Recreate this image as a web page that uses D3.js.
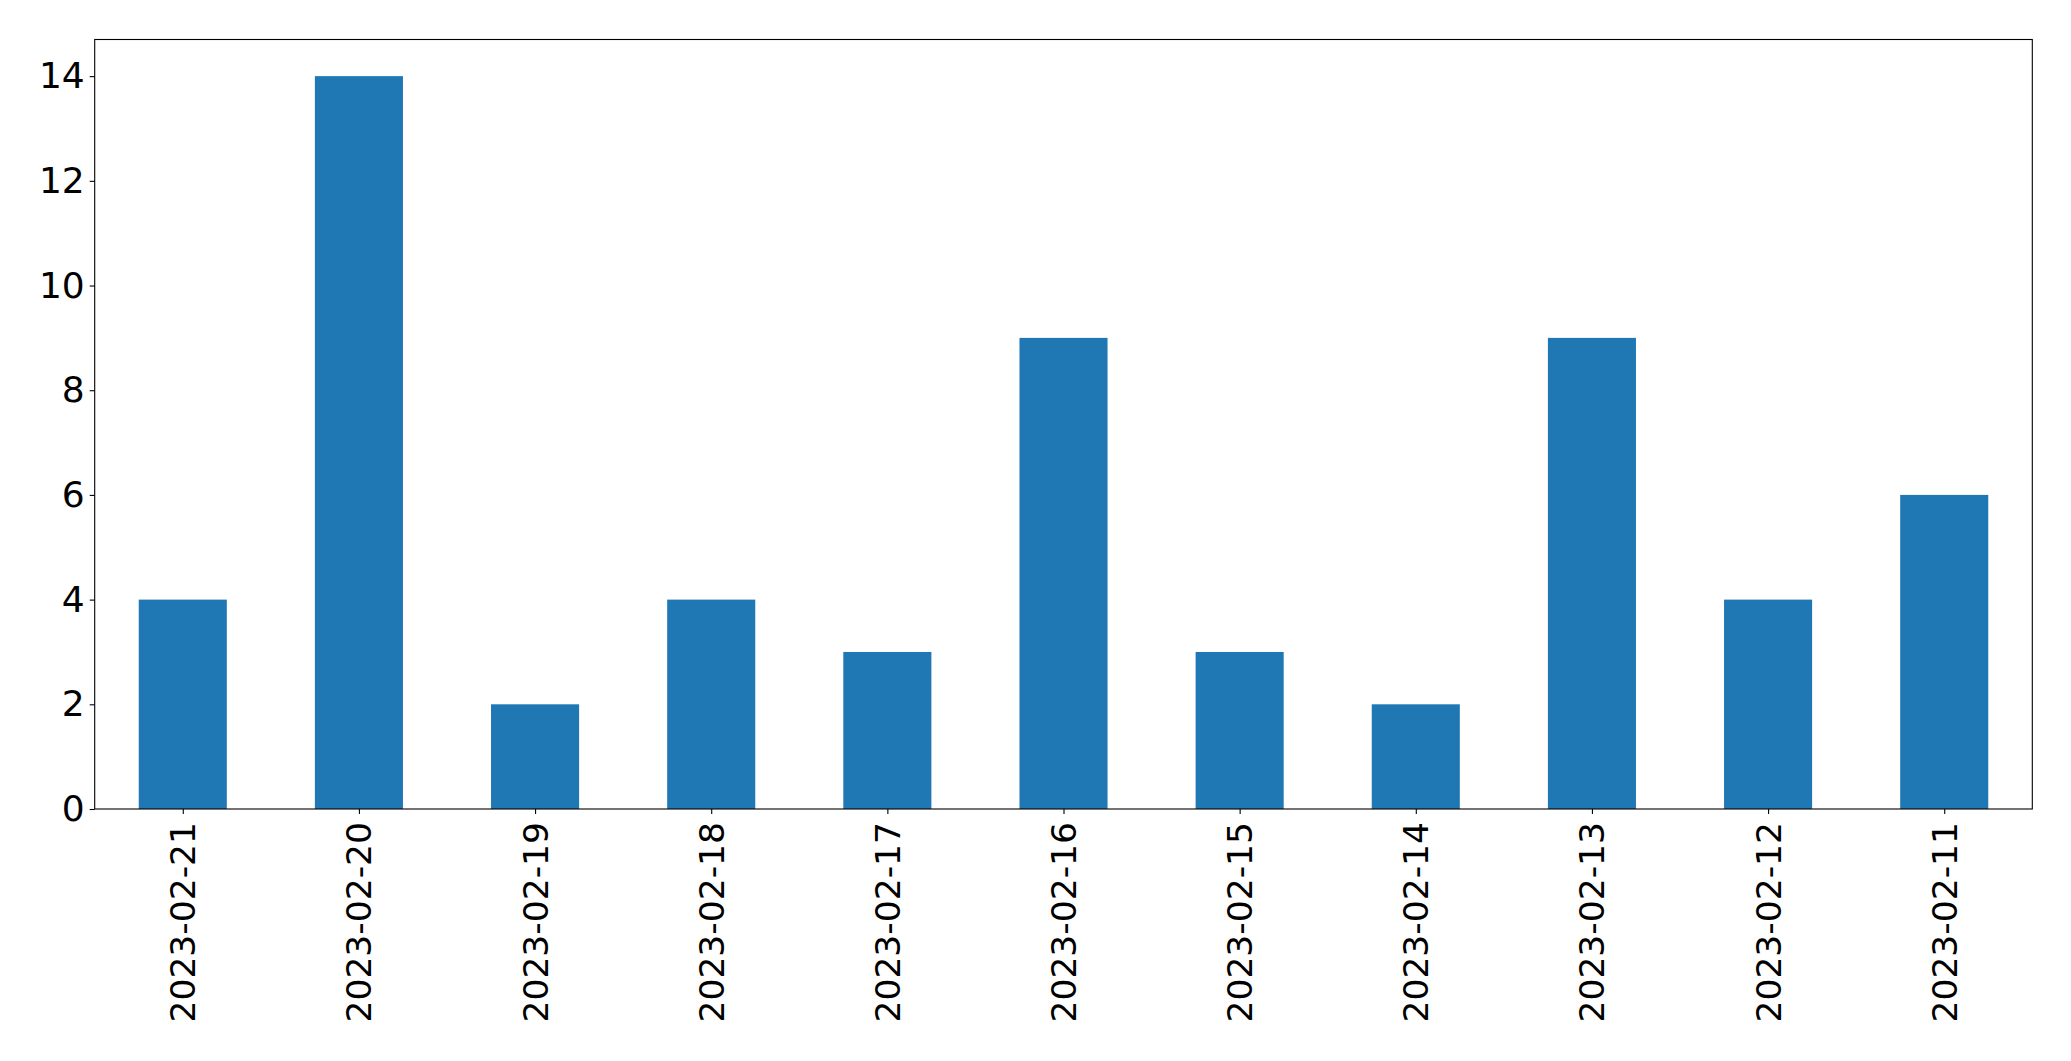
<!DOCTYPE html>
<html><head><meta charset="utf-8">
<script src="https://cdn.jsdelivr.net/npm/d3@7"></script>
<style>body{margin:0;background:#fff;} svg{display:block;} text{font-family:"DejaVu Sans",sans-serif;}</style>
</head><body>
<script>
const categories = ["2023-02-21","2023-02-20","2023-02-19","2023-02-18","2023-02-17","2023-02-16","2023-02-15","2023-02-14","2023-02-13","2023-02-12","2023-02-11"];
const values = [4,14,2,4,3,9,3,2,9,4,6];
const yTicks = [0,2,4,6,8,10,12,14];

const W = 2071, H = 1061;
const m = {left: 94.7, right: 2032.3, top: 39.5, bottom: 809};
const svg = d3.select("body").append("svg").attr("width", W).attr("height", H);

const x = d3.scaleLinear().domain([-0.5, categories.length - 0.5]).range([m.left, m.right]);
const y = d3.scaleLinear().domain([0, 14.7]).range([m.bottom, m.top]);
const bw = x(0.5) - x(0);

svg.append("g").selectAll("rect").data(values).join("rect")
  .attr("x", (d, i) => x(i) - bw / 2)
  .attr("width", bw)
  .attr("y", d => y(d))
  .attr("height", d => y(0) - y(d))
  .attr("fill", "#1f77b4");

const yAxis = svg.append("g").attr("transform", `translate(${m.left},0)`)
  .call(d3.axisLeft(y).tickValues(yTicks).tickSize(5).tickPadding(5).tickFormat(d3.format("d")));
yAxis.select(".domain").remove();
yAxis.selectAll("text").attr("font-size", 36).attr("fill", "#000").attr("font-family", "DejaVu Sans");
yAxis.selectAll("line").attr("stroke", "#000").attr("stroke-width", 1.1);

const xAxis = svg.append("g").attr("transform", `translate(0,${m.bottom})`)
  .call(d3.axisBottom(x).tickValues(d3.range(categories.length)).tickSize(5).tickFormat(i => categories[i]));
xAxis.select(".domain").remove();
xAxis.selectAll("line").attr("stroke", "#000").attr("stroke-width", 1.1);
xAxis.selectAll("text")
  .attr("font-size", 34.5).attr("fill", "#000").attr("font-family", "DejaVu Sans")
  .attr("text-anchor", "end")
  .attr("dy", null).attr("y", 0)
  .attr("transform", "translate(0,13) rotate(-90)")
  .attr("dominant-baseline", "central");

svg.append("rect")
  .attr("x", m.left).attr("y", m.top)
  .attr("width", m.right - m.left).attr("height", m.bottom - m.top)
  .attr("fill", "none").attr("stroke", "#000").attr("stroke-width", 1.1);
</script>
</body></html>
